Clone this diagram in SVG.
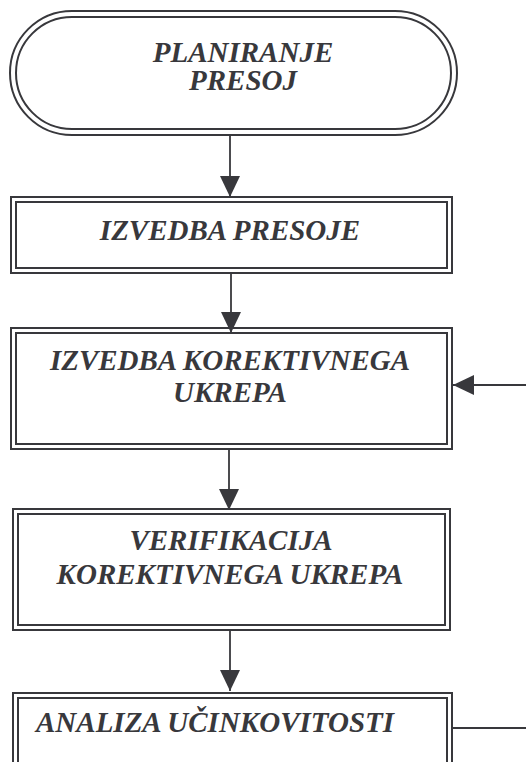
<svg xmlns="http://www.w3.org/2000/svg" width="526" height="762" viewBox="0 0 526 762">
<style>
.b{fill:none;stroke:#38383c;stroke-width:2}
.c{fill:none;stroke:#38383c;stroke-width:1.8}
text{font-family:'Liberation Serif','Times New Roman','DejaVu Serif',serif;font-weight:700;font-style:italic;font-size:29px;fill:#38383c;text-anchor:middle}
</style>
<defs>
<marker id="ah" markerWidth="21" markerHeight="20" refX="21" refY="10" orient="auto" markerUnits="userSpaceOnUse">
<path d="M0,0 L21,10 L0,20 Z" fill="#38383c"/>
</marker>
</defs>
<rect width="526" height="762" fill="#fff"/>
<g id="n1">
<rect class="b" x="10" y="11" width="447" height="124" rx="62" ry="62"/>
<rect class="b" x="16" y="17" width="435" height="112" rx="56" ry="56"/>
<text x="243" y="62">PLANIRANJE</text>
<text x="243" y="90">PRESOJ</text>
</g>
<g id="n2">
<rect class="b" x="11" y="197" width="441" height="76"/>
<rect class="b" x="16" y="202" width="431" height="66"/>
<text x="230" y="240">IZVEDBA PRESOJE</text>
</g>
<g id="n3">
<rect class="b" x="11" y="328" width="441" height="121"/>
<rect class="b" x="16" y="333" width="431" height="111"/>
<text x="230" y="370">IZVEDBA KOREKTIVNEGA</text>
<text x="230" y="402">UKREPA</text>
</g>
<g id="n4">
<rect class="b" x="13" y="509" width="437" height="121"/>
<rect class="b" x="18" y="514" width="427" height="111"/>
<text x="231" y="550">VERIFIKACIJA</text>
<text x="230" y="584">KOREKTIVNEGA UKREPA</text>
</g>
<g id="n5">
<rect class="b" x="13" y="693" width="439" height="90"/>
<rect class="b" x="18" y="698" width="429" height="80"/>
<text x="36" y="732" style="text-anchor:start">ANALIZA UČINKOVITOSTI</text>
</g>
<g id="connectors">
<line class="c" x1="230" y1="135" x2="230" y2="197" marker-end="url(#ah)"/>
<line class="c" x1="231" y1="273" x2="231" y2="333" marker-end="url(#ah)"/>
<line class="c" x1="229" y1="449" x2="229" y2="510" marker-end="url(#ah)"/>
<line class="c" x1="230" y1="630" x2="230" y2="691" marker-end="url(#ah)"/>
<line class="c" x1="526" y1="385" x2="453" y2="385" marker-end="url(#ah)"/>
<line class="c" x1="452" y1="728" x2="526" y2="728"/>
</g>
</svg>
